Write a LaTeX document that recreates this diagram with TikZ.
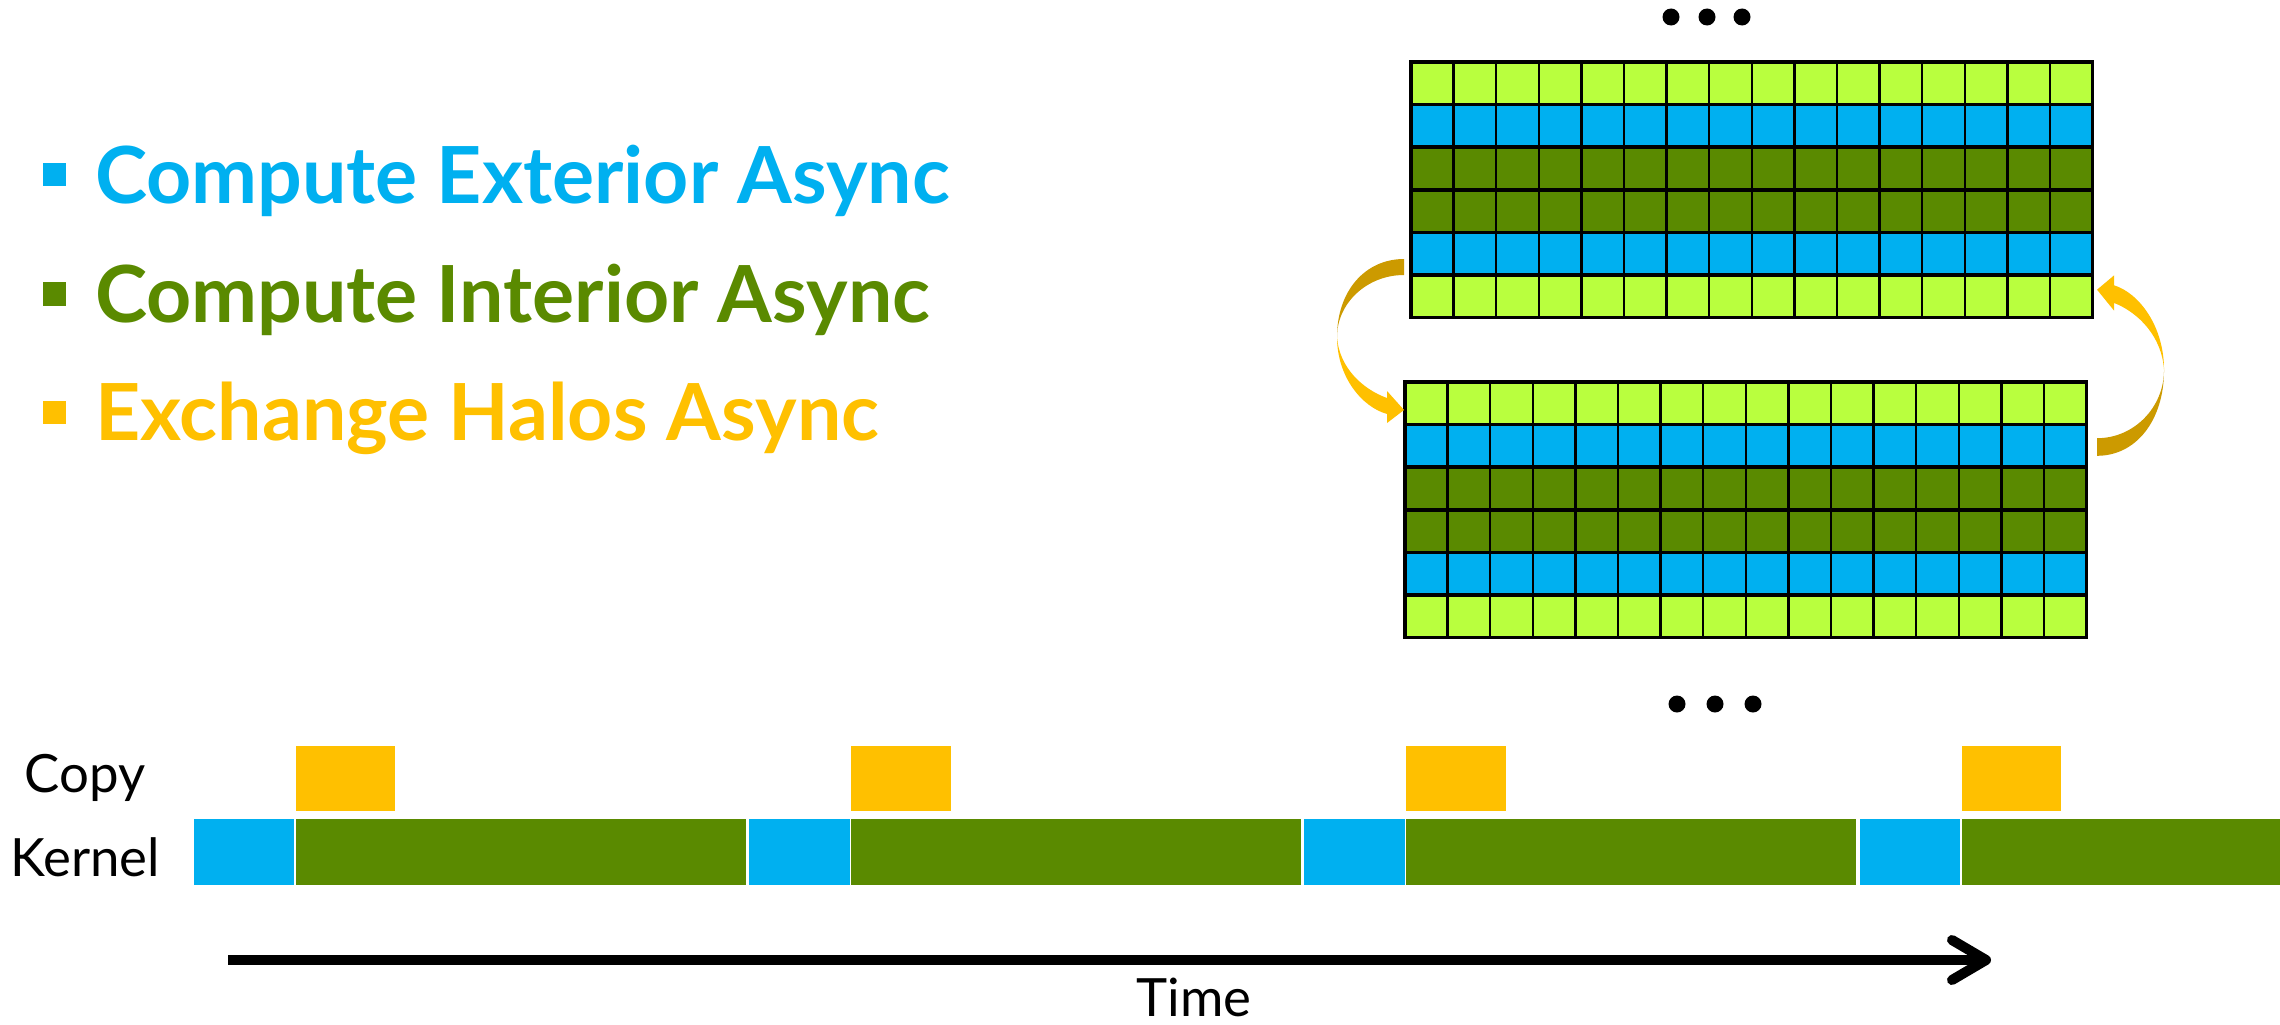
\documentclass[tikz,border=0pt]{standalone}
\usepackage{fontspec}
\setmainfont{Lato}
\usetikzlibrary{arrows.meta}
\definecolor{extblue}{RGB}{0,176,240}
\definecolor{intgreen}{RGB}{90,138,0}
\definecolor{halogold}{RGB}{255,192,0}
\definecolor{halodark}{RGB}{204,154,0}
\definecolor{limecell}{RGB}{185,255,62}

% one 6x16 block of the domain, rows coloured halo / exterior / interior
\newcommand{\meshgrid}[2]{%
  \foreach \c [count=\r from 0] in {limecell,extblue,intgreen,intgreen,extblue,limecell} {
    \foreach \k in {0,...,15}
      \draw[cell, fill=\c] ({#1+\k*42.6},{#2+\r*42.6}) rectangle ++(42.6,42.6);
    \draw[rowline] (#1,{#2+\r*42.6}) rectangle ++(681.6,42.6);
  }}

% curved halo exchange arrow, origin at its outermost point
\newcommand{\halocurve}{%
  \fill[halodark] (67,-78) .. controls (28,-78) and (0,-46) .. (0,0)
     .. controls (0,-34) and (30,-62) .. (67,-62) -- cycle;
  \fill[halogold] (0,0) .. controls (0,40) and (25,70) .. (50,77)
     -- (50,86) -- (67,73) -- (50,54) -- (50,61)
     .. controls (25,52) and (2,30) .. (0,0) -- cycle;}

\begin{document}
\begin{tikzpicture}[x=0.01cm, y=-0.01cm, every node/.style={inner sep=0pt, outer sep=0pt}]
  \tikzstyle{cell}=[draw=black, line width=0.7pt]
  \tikzstyle{rowline}=[draw=black, line width=1.05pt]
  \tikzstyle{bullet}=[minimum size=0.23cm]
  \tikzstyle{legendtext}=[anchor=base west, font=\fontsize{22.4}{26}\selectfont\bfseries]
  \tikzstyle{lane}=[anchor=base, font=\fontsize{15}{18}\selectfont]
  \tikzstyle{blk}=[draw=white, line width=0.4pt, minimum height=0.68cm]
  \useasboundingbox (0,0) rectangle (2280,1024);

  % legend
  \node[bullet, fill=extblue] (bext) at (54.5,174.5) {};
  \node[legendtext, text=extblue] (lext) at (95,203) {Compute Exterior Async};
  \node[bullet, fill=intgreen] (bint) at (54.5,294) {};
  \node[legendtext, text=intgreen] (lint) at (95,322) {Compute Interior Async};
  \node[bullet, fill=halogold] (bhalo) at (54.5,412) {};
  \node[legendtext, text=halogold] (lhalo) at (95,440) {Exchange Halos Async};

  % the two domains
  \meshgrid{1411}{62}
  \meshgrid{1405}{382}
  \foreach \x in {1671,1707,1742} \fill (\x,17) circle[radius=0.085cm];
  \foreach \x in {1677,1715,1753} \fill (\x,704) circle[radius=0.085cm];
  \begin{scope}[shift={(1337,337)}] \halocurve \end{scope}
  \begin{scope}[shift={(2164,370)}, rotate=180, yscale=1.1] \halocurve \end{scope}

  % timeline
  \foreach \i/\w in {0/4.51,1/4.51,2/4.51,3/3.2} {
    \node[blk, fill=extblue, minimum width=1.02cm, anchor=north west] (ext\i) at ({193+555.3*\i},818) {};
    \node[blk, fill=intgreen, minimum width=\w cm, anchor=north west] (int\i) at (ext\i.north east) {};
    \node[blk, fill=halogold, minimum width=1.01cm, minimum height=0.67cm, anchor=south west] (halo\i) at ([yshift=0.06cm]int\i.north west) {};
  }
  \node[lane] (copylbl) at (85,792) {Copy};
  \node[lane] (kernellbl) at (85,876) {Kernel};
  \coordinate (tstart) at (228,960);
  \coordinate (tend) at (1991,960);
  \draw[line width=2.85pt, -{Straight Barb[length=3.4mm, width=4mm, round]}] (tstart) -- (tend);
  \node[lane] (timelbl) at (1194,1016) {Time};
\end{tikzpicture}
\end{document}
